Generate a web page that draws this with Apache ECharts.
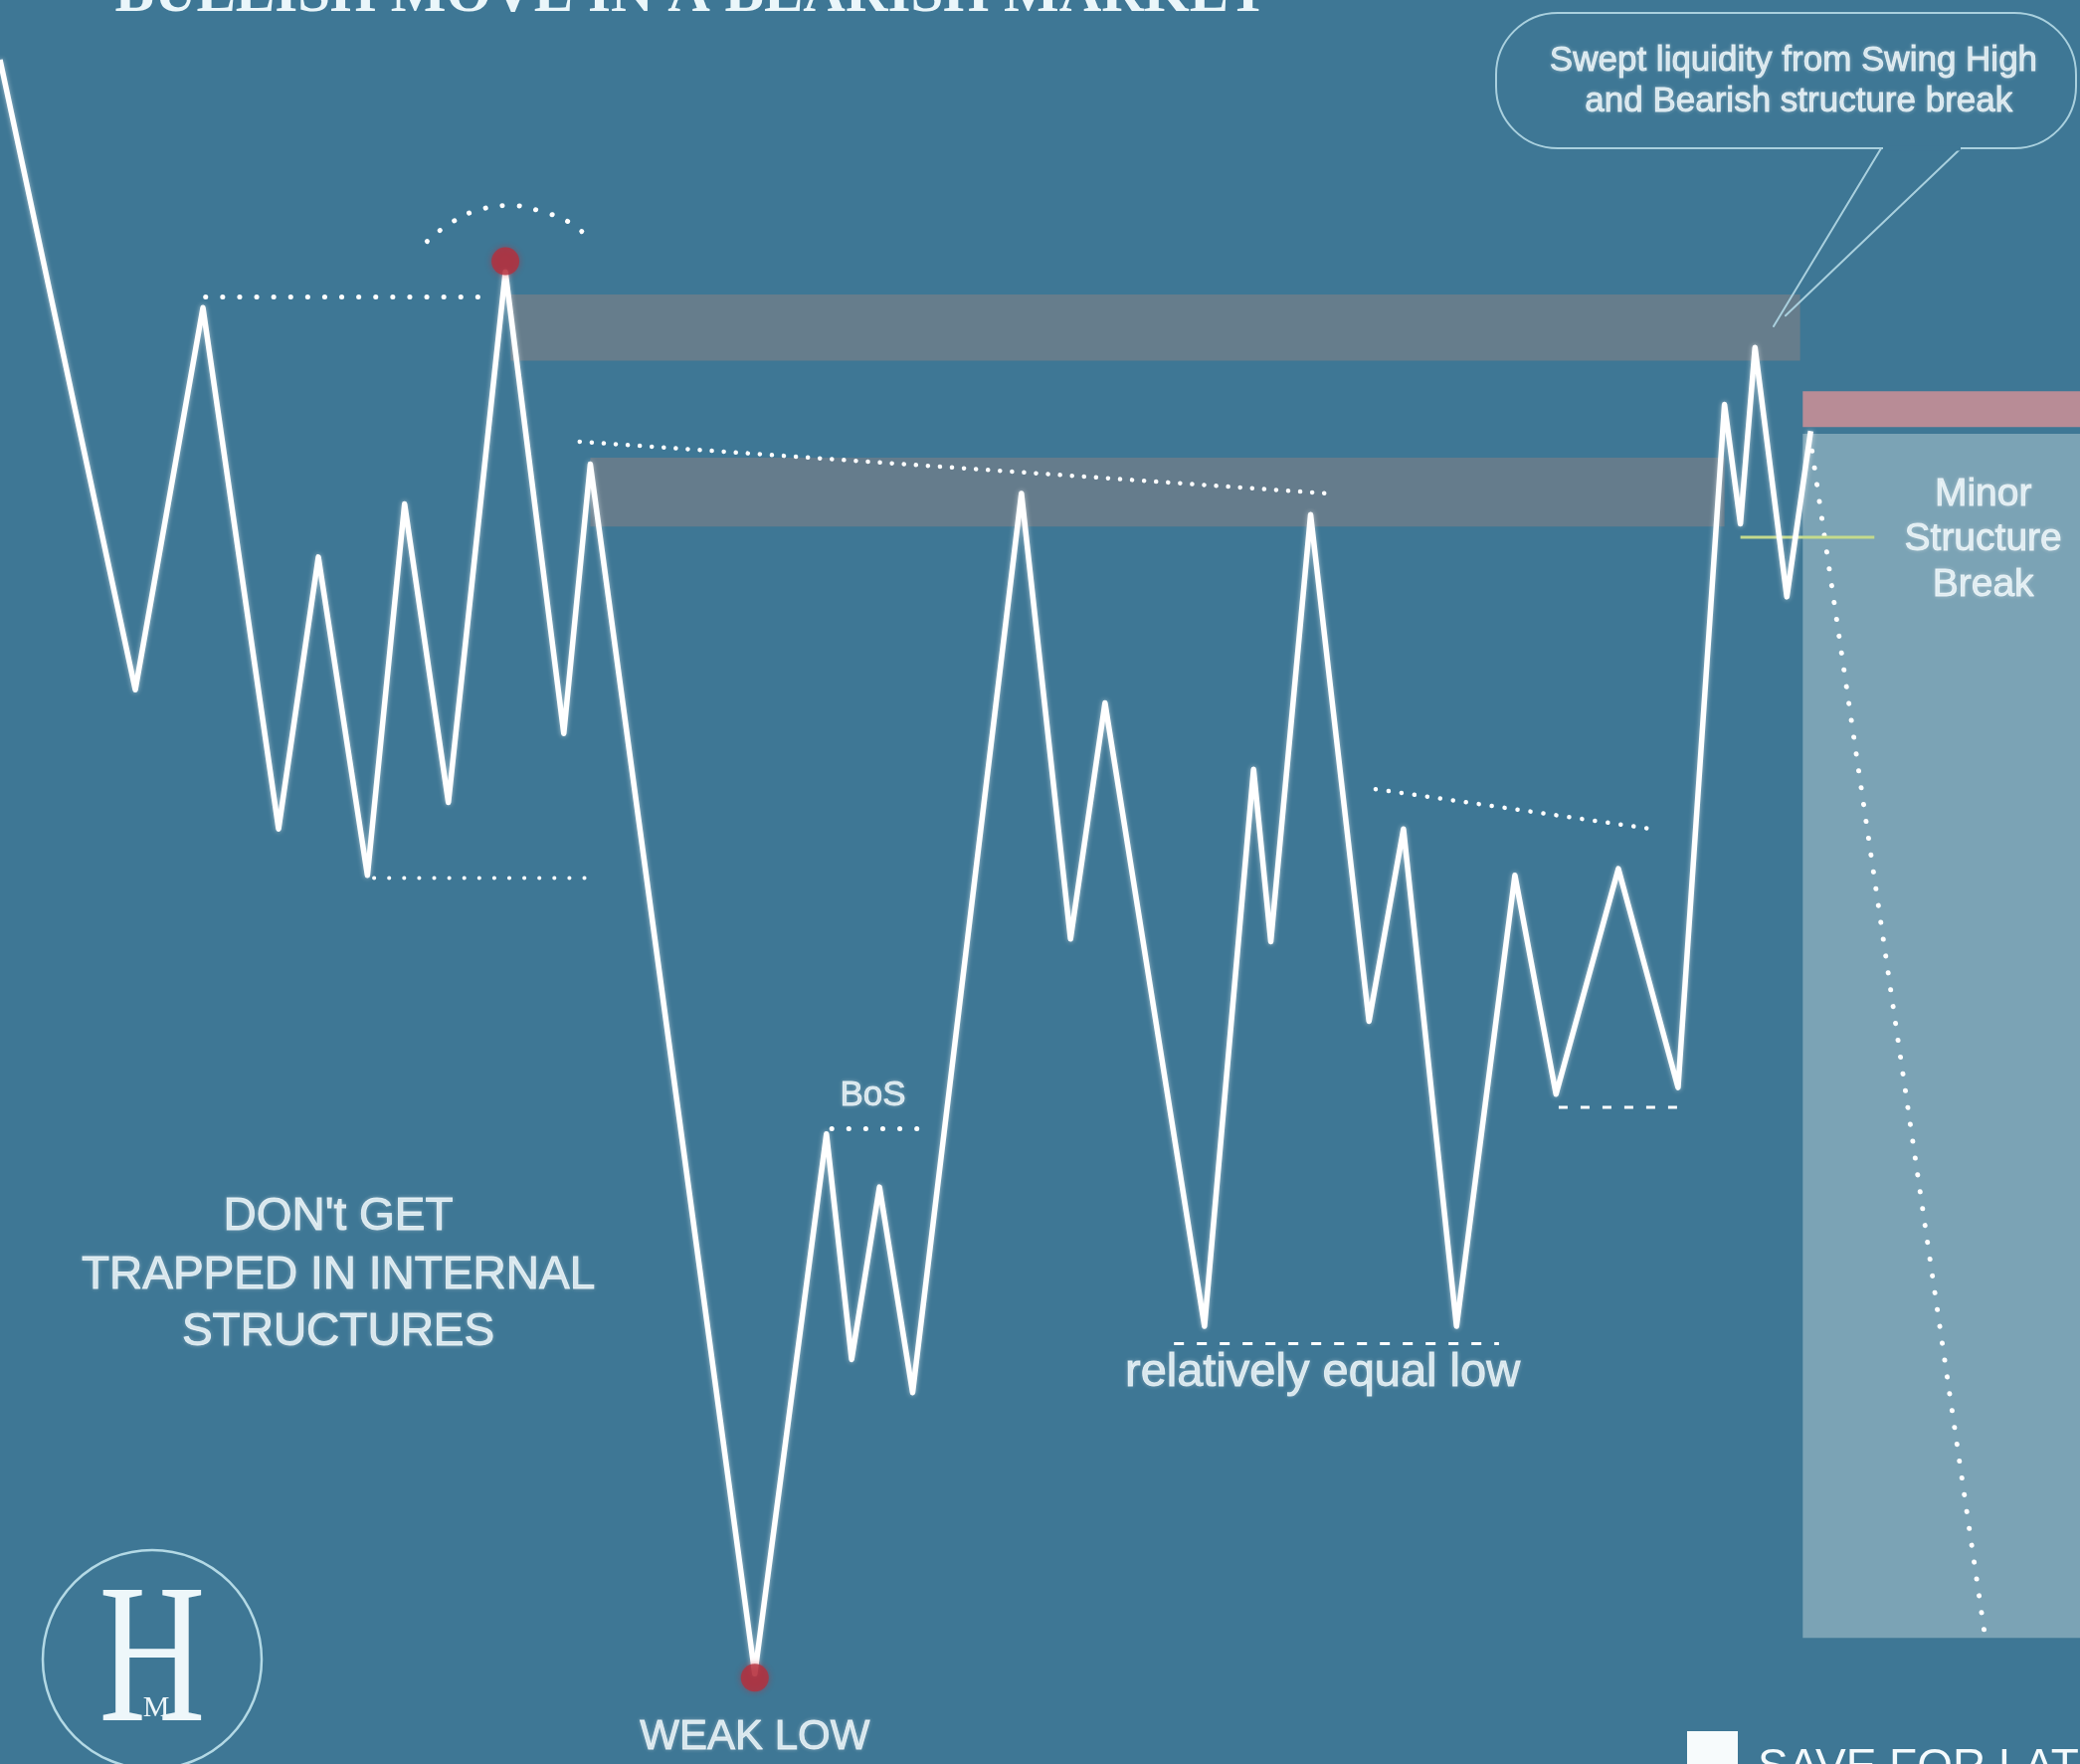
<!DOCTYPE html>
<html><head><meta charset="utf-8">
<script src="https://cdn.jsdelivr.net/npm/echarts@6/dist/echarts.min.js"></script>
<style>html,body{margin:0;padding:0;background:#3e7795;}#c{width:2091px;height:1773px;}</style>
</head><body><div id="c"></div>
<script>
// ---- data (time index, price) ----
const timeIdx = [0,10.2,15.3,21.0,24.0,27.7,30.5,33.8,38.1,42.5,44.5,56.9,62.3,64.2,66.3,68.8,77.0,80.7,83.3,90.8,94.5,95.8,98.8,103.2,105.8,109.8,114.2,117.3,122.0,126.5,130.0,131.2,132.3,134.7,136.5];
const price   = [128.5,81.0,109.8,70.5,91.0,67.0,95.0,72.5,112.5,77.7,98.0,6.8,47.5,30.5,43.5,28.0,95.8,62.2,80.0,33.0,75.0,62.0,94.2,56.0,70.5,33.0,67.0,50.5,67.5,51.0,102.5,93.5,106.8,88.0,100.5];

const swingHigh = [38.1, 113.3];
const weakLow = [56.9, 6.5];

// zones: [tStart, tEnd, pLow, pHigh]
const swingHighZone = [38.5, 135.7, 105.8, 110.8];
const internalHighZone = [44.5, 130.0, 93.3, 98.5];
const supplyZone = [135.9, 156.8, 100.8, 103.5];
const targetZone = [135.9, 156.8, 9.5, 100.3];

// levels
const swingHighLevel = [[15.5,110.6],[36.5,110.6]];
const internalLowLevel = [[28.2,66.8],[44.5,66.8]];
const descendingHighs = [[43.7,99.7],[100.0,95.8]];
const bosLevel = [[62.7,47.9],[69.7,47.9]];
const lowerHighs = [[103.7,73.5],[124.5,70.5]];
const rangeLow = [[117.5,49.5],[127.0,49.5]];
const equalLows = [[88.5,31.7],[113.0,31.7]];
const projection = [[136.6,99.0],[149.7,9.2]];
const sweepArc = [[32.2,114.8],[34.0,116.2],[36.2,117.2],[38.5,117.5],[41.0,117.0],[43.0,116.2],[44.0,115.4]];
const minorBreak = [[131.2,92.5],[141.3,92.5]];
const calloutTailA = [[141.8,121.8],[133.7,108.4]];
const calloutTailB = [[147.8,121.8],[134.6,109.2]];

// annotation labels
const labelText = ["DON't GET","TRAPPED IN INTERNAL","STRUCTURES","BoS","WEAK LOW","relatively equal low","Minor","Structure","Break","Swept liquidity from Swing High","and Bearish structure break"];
const labelPos  = [[25.5,41.2],[25.5,36.8],[25.5,32.5],[65.8,50.4],[56.9,2.0],[99.7,29.5],[149.5,95.7],[149.5,92.3],[149.5,88.9],[135.2,128.4],[135.6,125.3]];
const labelSize = [46,46,46,35,42,47,39,39,39,35,35];

const titleText = 'BULLISH MOVE IN A BEARISH MARKET';

// ---- chart ----
const chart = echarts.init(document.getElementById('c'), null, {renderer:'canvas'});
const W = '#ffffff';
function seg(data, style, z){
  return {type:'line', data:data, symbol:'none', silent:true, z:z||3, animation:false,
    lineStyle:Object.assign({color:W, width:4, cap:'round'}, style)};
}
function area(zone, color){
  return [{coord:[zone[0], zone[3]], itemStyle:{color:color}}, {coord:[zone[1], zone[2]]}];
}
const series = [
  {type:'line', data:[], silent:true, z:1, markArea:{silent:true, data:[
    area(swingHighZone,'rgba(140,130,132,0.52)'),
    area(internalHighZone,'rgba(140,130,132,0.50)'),
    area(targetZone,'#7ba3b5'),
    area(supplyZone,'#b88c96')
  ]}},
  seg(swingHighLevel, {type:[0.1,17], width:5}),
  seg(internalLowLevel, {type:[0.1,15], width:4}),
  seg(descendingHighs, {type:[0.1,12], width:4.5}),
  seg(bosLevel, {type:[0.1,17], width:5}),
  seg(lowerHighs, {type:[0.1,13], width:4.5}),
  seg(rangeLow, {type:[9,13], width:3, cap:'butt'}),
  seg(equalLows, {type:[10,13], width:3, cap:'butt'}),
  seg(projection, {type:[0.1,17], width:5}),
  Object.assign(seg(sweepArc, {type:[0.1,17], width:5}), {smooth:true}),
  seg(minorBreak, {color:'#c4da8c', width:3, cap:'butt'}, 4),
  seg(calloutTailA, {color:'#a9d0de', width:2}),
  seg(calloutTailB, {color:'#a9d0de', width:2}),
  {type:'line', name:'price', data:timeIdx.map((t,i)=>[t, price[i]]), symbol:'none', z:5, animation:false,
   lineStyle:{color:W, width:5.5, join:'round', shadowBlur:5, shadowColor:'rgba(255,255,255,0.55)'}},
  {type:'scatter', data:[swingHigh, weakLow], symbolSize:28, z:6, animation:false,
   itemStyle:{color:'#b3303d', shadowBlur:6, shadowColor:'rgba(200,40,50,0.6)'}},
  {type:'scatter', symbolSize:0, z:7, animation:false, silent:true,
   data: labelText.map((s,i)=>({name:s, value:labelPos[i], label:{fontSize:labelSize[i]}})),
   label:{show:true, position:'inside', formatter:'{b}', color:'#f2fafc', fontFamily:'Liberation Sans, Arial, sans-serif',
     textBorderColor:'#f2fafc', textBorderWidth:0.9,
     textShadowBlur:4, textShadowColor:'rgba(255,255,255,0.35)'}}
];

chart.setOption({
  backgroundColor:'#3e7795',
  animation:false,
  grid:{left:0,right:0,top:0,bottom:0},
  xAxis:{type:'value', min:0, max:156.8, show:false},
  yAxis:{type:'value', min:0, max:133, show:false},
  series:series,
  graphic:[
    {type:'text', x:695, y:-4, z:10, style:{text:titleText, align:'center', verticalAlign:'middle',
      font:'bold 59px "Liberation Serif", serif', fill:'#eaf6fa'}},
    {type:'rect', z:10, shape:{x:1504,y:13,width:583,height:136,r:62}, style:{fill:'none', stroke:'#a9d0de', lineWidth:2}},
    {type:'line', z:11, shape:{x1:1893,y1:149,x2:1971,y2:149}, style:{stroke:'#3e7795', lineWidth:5}},
    {type:'circle', z:10, shape:{cx:153,cy:1668,r:110}, style:{fill:'none', stroke:'#b3d9e5', lineWidth:2.5}},
    {type:'text', x:153, y:1676, scaleX:0.74, z:10, style:{text:'H', align:'center', verticalAlign:'middle',
      font:'200px "Liberation Serif", serif', fill:'#eef7fa'}},
    {type:'text', x:157, y:1717, z:11, style:{text:'M', align:'center', verticalAlign:'middle',
      font:'30px "Liberation Serif", serif', fill:'#eef7fa'}},
    {type:'rect', z:10, shape:{x:1696,y:1740,width:51,height:40}, style:{fill:'#f7fbfc'}},
    {type:'text', x:1767, y:1754, z:10, style:{text:'SAVE FOR LATER', align:'left', verticalAlign:'top',
      font:'46px "Liberation Sans", sans-serif', fill:'#f4fafc'}}
  ]
});
</script></body></html>
